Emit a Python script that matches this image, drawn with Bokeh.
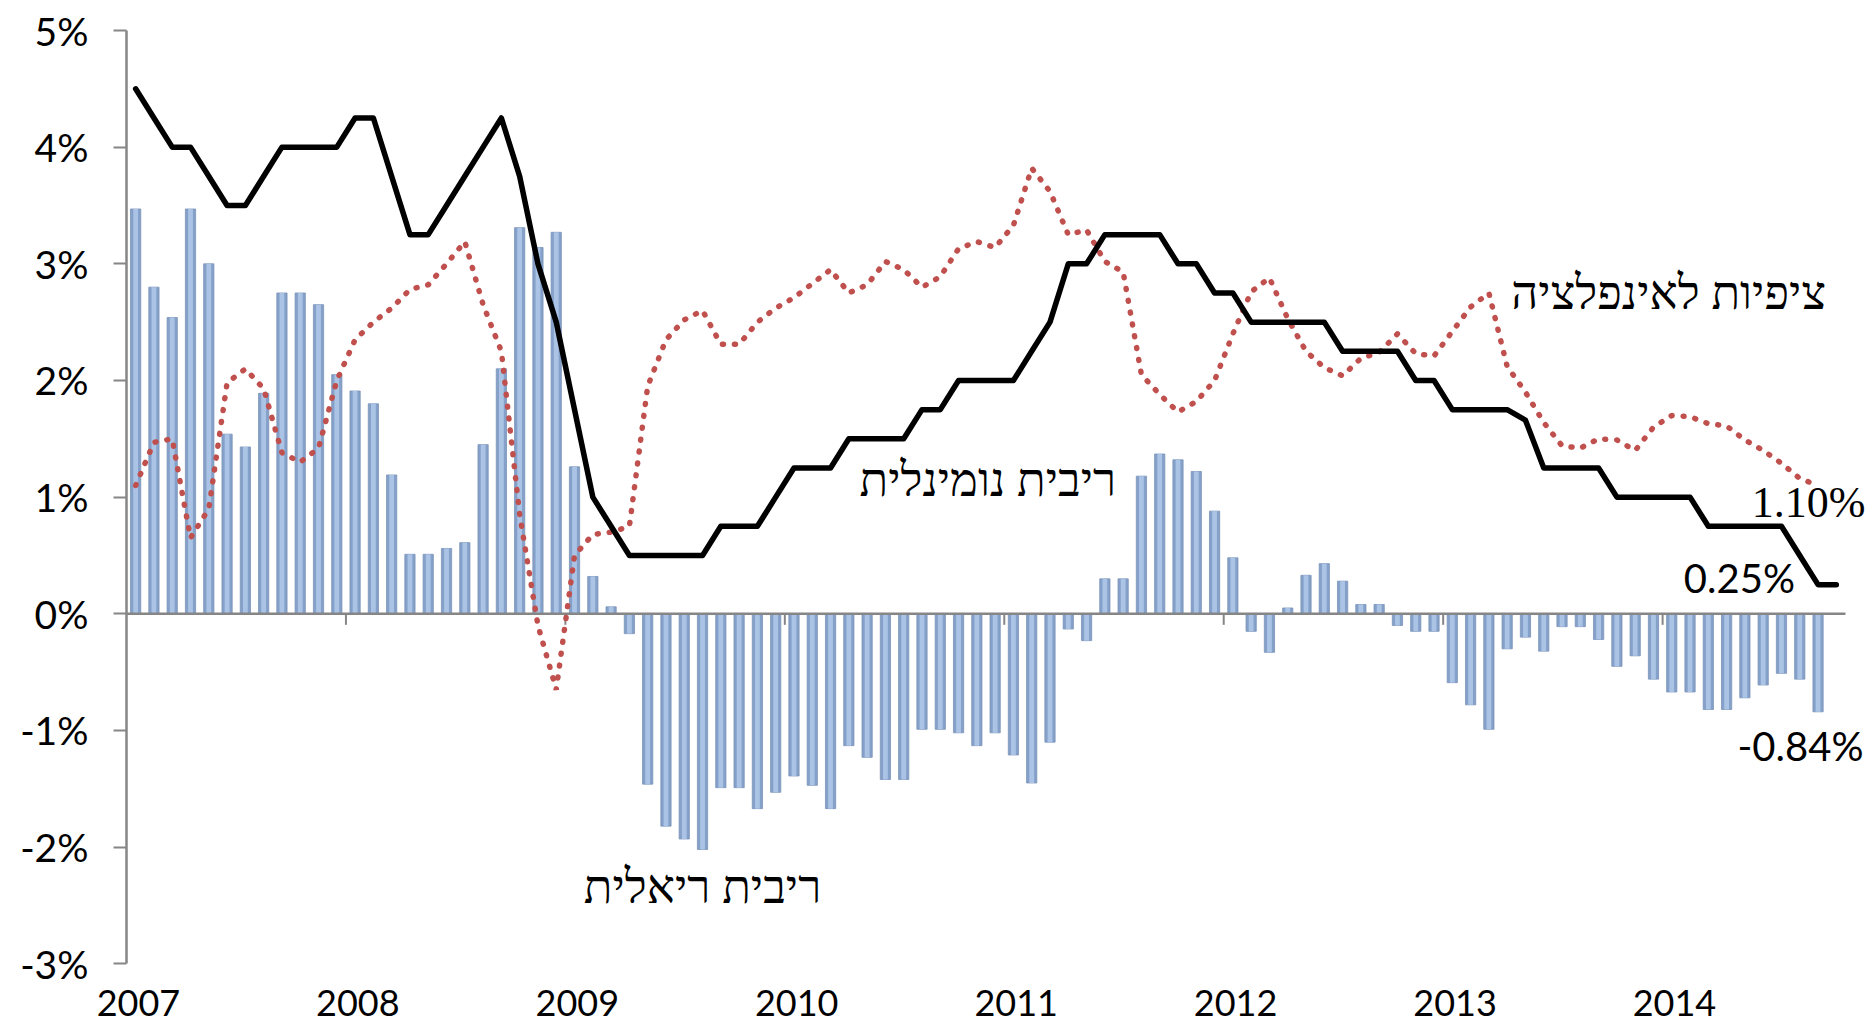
from bokeh.plotting import figure
from bokeh.models import Range1d, FixedTicker
from bokeh.core.properties import value
from bokeh.embed import file_html
from bokeh.resources import INLINE

# ---------------- data (monthly, Jan 2007 onward) ----------------
years = ["2007", "2008", "2009", "2010", "2011", "2012", "2013", "2014"]

real_rate = [
    3.47, 2.80, 2.54, 3.47, 3.00, 1.54, 1.43, 1.89, 2.75, 2.75, 2.65, 2.05,
    1.91, 1.80, 1.19, 0.51, 0.51, 0.56, 0.61, 1.45, 2.10, 3.31, 3.14, 3.27,
    1.26, 0.32, 0.06, -0.17, -1.46, -1.82, -1.93, -2.02, -1.49, -1.49, -1.67, -1.53,
    -1.39, -1.47, -1.67, -1.13, -1.23, -1.42, -1.42, -0.99, -0.99, -1.02, -1.13, -1.02,
    -1.21, -1.45, -1.10, -0.13, -0.23, 0.30, 0.30, 1.18, 1.37, 1.32, 1.22, 0.88,
    0.48, -0.15, -0.33, 0.05, 0.33, 0.43, 0.28, 0.08, 0.08, -0.10, -0.15, -0.15,
    -0.59, -0.78, -0.99, -0.30, -0.20, -0.32, -0.11, -0.11, -0.22, -0.45, -0.36, -0.56,
    -0.67, -0.67, -0.82, -0.82, -0.72, -0.61, -0.51, -0.56, -0.84,
]

nominal_rate = [
    4.50, 4.25, 4.00, 4.00, 3.75, 3.50, 3.50, 3.75, 4.00, 4.00, 4.00, 4.00,
    4.25, 4.25, 3.75, 3.25, 3.25, 3.50, 3.75, 4.00, 4.25, 3.75, 3.00, 2.50,
    1.75, 1.00, 0.75, 0.50, 0.50, 0.50, 0.50, 0.50, 0.75, 0.75, 0.75, 1.00,
    1.25, 1.25, 1.25, 1.50, 1.50, 1.50, 1.50, 1.75, 1.75, 2.00, 2.00, 2.00,
    2.00, 2.25, 2.50, 3.00, 3.00, 3.25, 3.25, 3.25, 3.25, 3.00, 3.00, 2.75,
    2.75, 2.50, 2.50, 2.50, 2.50, 2.50, 2.25, 2.25, 2.25, 2.25, 2.00, 2.00,
    1.75, 1.75, 1.75, 1.75, 1.66, 1.25, 1.25, 1.25, 1.25, 1.00, 1.00, 1.00,
    1.00, 1.00, 0.75, 0.75, 0.75, 0.75, 0.75, 0.50, 0.25, 0.25,
]

infl_expect = [
    1.10, 1.47, 1.50, 0.65, 0.90, 1.98, 2.10, 1.93, 1.38, 1.30, 1.42, 2.00,
    2.35, 2.50, 2.62, 2.78, 2.82, 3.00, 3.19, 2.65, 2.25, 0.85, -0.10, -0.65,
    0.50, 0.68, 0.70, 0.75, 1.95, 2.35, 2.52, 2.60, 2.31, 2.31, 2.50, 2.62,
    2.71, 2.83, 2.95, 2.75, 2.82, 3.02, 2.95, 2.80, 2.89, 3.13, 3.19, 3.14,
    3.33, 3.82, 3.62, 3.25, 3.29, 3.02, 2.93, 2.05, 1.88, 1.73, 1.82, 2.00,
    2.40, 2.76, 2.88, 2.53, 2.25, 2.11, 2.04, 2.19, 2.24, 2.40, 2.23, 2.21,
    2.42, 2.63, 2.75, 2.12, 1.90, 1.64, 1.44, 1.42, 1.50, 1.49, 1.40, 1.60,
    1.70, 1.69, 1.63, 1.61, 1.49, 1.40, 1.29, 1.16, 1.10,
]

y_ticks = [-3, -2, -1, 0, 1, 2, 3, 4, 5]
y_tick_labels = ["-3%", "-2%", "-1%", "0%", "1%", "2%", "3%", "4%", "5%"]

label_real = "ריבית ריאלית"
label_nominal = "ריבית נומינלית"
label_infl = "ציפיות לאינפלציה"

# ---------------- layout ----------------
W, H = 1870, 1029
AXIS_X, AXIS_TOP, AXIS_BOTTOM = 126, 30, 963.3   # page pixels of the plot area
PX_PER_MONTH = 18.287
y_lo, y_hi = min(y_ticks), max(y_ticks)
PX_PER_PCT = (AXIS_BOTTOM - AXIS_TOP) / (y_hi - y_lo)
x_start = -AXIS_X / PX_PER_MONTH
x_end = (W - AXIS_X) / PX_PER_MONTH
y_end = y_hi + AXIS_TOP / PX_PER_PCT
y_start = y_lo - (H - AXIS_BOTTOM) / PX_PER_PCT

p = figure(width=W, height=H,
           x_range=Range1d(x_start, x_end), y_range=Range1d(y_start, y_end),
           output_backend="svg", toolbar_location=None, x_axis_location=None,
           min_border_left=0, min_border_right=0,
           min_border_top=0, min_border_bottom=0)
p.outline_line_color = None
p.grid.visible = False
p.background_fill_color = "white"
p.border_fill_color = "white"

AX = "#868686"
yax = p.yaxis[0]
yax.fixed_location = 0
yax.ticker = FixedTicker(ticks=y_ticks)
yax.major_label_overrides = dict(zip(y_ticks, y_tick_labels))
yax.bounds = (y_lo, y_hi)
yax.axis_line_color = AX
yax.axis_line_width = 2.5
yax.major_tick_line_color = AX
yax.major_tick_line_width = 2
yax.major_tick_out = 13
yax.major_tick_in = 0
yax.minor_tick_line_color = None
yax.major_label_standoff = 25
yax.major_label_text_font = "Lato"
yax.major_label_text_font_size = "39px"
yax.major_label_text_color = "black"

n_bar = len(real_rate)
xb = [i + 0.5 for i in range(n_bar)]
xn = [i + 0.5 for i in range(len(nominal_rate))]
xi = [i + 0.5 for i in range(len(infl_expect))]

# bars (two layers to mimic the shaded columns)
p.vbar(x=xb, top=real_rate, bottom=0, width=0.56,
       fill_color="#85a1ca", line_color="#7a93b8", line_width=0.8)
p.vbar(x=xb, top=real_rate, bottom=0, width=0.26,
       fill_color="#abc4e6", line_color=None)

# zero axis line with year ticks
n_axis = len(nominal_rate)
p.segment(x0=[0], x1=[n_axis], y0=[0], y1=[0], line_color=AX, line_width=2.5)
tick_x = [12 * k for k in range(1, len(years))]
tick_len = 11 / PX_PER_PCT
p.segment(x0=tick_x, x1=tick_x, y0=[0] * len(tick_x), y1=[-tick_len] * len(tick_x),
          line_color=AX, line_width=2)

# inflation expectations (dotted) and nominal rate
p.line(xi, infl_expect, line_color="#c0504d", line_width=5.5,
       line_dash="1 11", line_cap="round")
p.line(xn, nominal_rate, line_color="black", line_width=5.5,
       line_join="round", line_cap="round")

# year labels along the bottom
label_off = 0.65
year_x = [12 * k + label_off for k in range(len(years))]
year_y = -3.34
p.text(x=year_x, y=[year_y] * len(years), text=years,
       text_font=value("Lato"), text_font_size="36px", text_color="black",
       text_align="center", text_baseline="middle")

# series labels
heb = dict(text_font=value("Liberation Serif"), text_font_size="47px",
           text_color="black", text_align="center", text_baseline="middle")
p.text(x=[84.33], y=[2.75], text=[label_infl], **heb)
p.text(x=[47.1], y=[1.15], text=[label_nominal], **heb)
p.text(x=[31.5], y=[-2.34], text=[label_real], **heb)

# end values
p.text(x=[91.98], y=[0.958], text=[f"{infl_expect[-1]:.2f}%"],
       text_font=value("Liberation Serif"), text_font_size="44px",
       text_color="black", text_align="center", text_baseline="middle")
p.text(x=[88.2], y=[0.307], text=[f"{nominal_rate[-1]:.2f}%"],
       text_font=value("Lato"), text_font_size="40px",
       text_color="black", text_align="center", text_baseline="middle")
p.text(x=[91.54], y=[-1.129], text=[f"{real_rate[-1]:.2f}%"],
       text_font=value("Lato"), text_font_size="40px",
       text_color="black", text_align="center", text_baseline="middle")

open("out.html", "w").write(file_html(p, INLINE))
